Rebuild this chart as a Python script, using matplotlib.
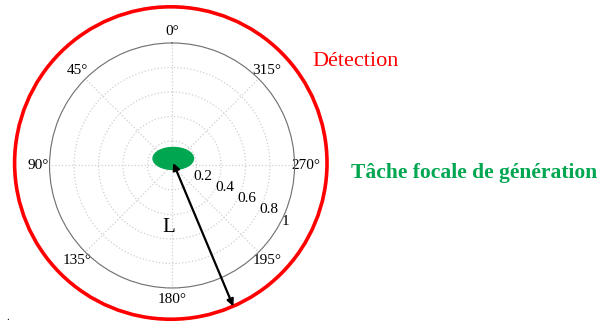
import matplotlib.pyplot as plt
import numpy as np
from matplotlib.patches import Circle, Ellipse

plt.rcParams['font.family'] = ['Liberation Serif', 'DejaVu Serif']

# polar grid
theta_ticks = [0, 45, 90, 135, 180, 225, 270, 315]
theta_labels = ['0°', '45°', '90°', '135°', '180°', '195°', '270°', '315°']
r_ticks = [0.2, 0.4, 0.6, 0.8, 1.0]
r_labels = ['0.2', '0.4', '0.6', '0.8', '1']

# overlay shapes (cartesian, unit = polar radius 1)
detect_center = (-0.01, 0.02)
detect_radius = 1.275
spot_center = (0.01, 0.057)
spot_w, spot_h = 0.33, 0.18
arrow_tail = (0.50, -1.15)
arrow_head = (0.01, 0.02)

fig = plt.figure(figsize=(6.01, 3.22), dpi=100)
rect = [0.0824, 0.1056, 0.4077, 0.761]
ax = fig.add_axes(rect, projection='polar')
ax.set_theta_zero_location('N')
ax.set_theta_direction(1)
ax.set_ylim(0, 1)
ax.set_thetagrids(theta_ticks, theta_labels, fontsize=11)
ax.set_rgrids(r_ticks, r_labels, angle=243, fontsize=11)
ax.grid(True, color='#d0d0d0', linestyle=':', linewidth=0.9)
ax.spines['polar'].set_color('#707070')
ax.spines['polar'].set_linewidth(0.8)
ax.tick_params(axis='x', pad=-2)
for t in ax.yaxis.get_ticklabels():
    t.set_ha('left')
    t.set_va('center')

ov = fig.add_axes(rect)
ov.set_xlim(-1, 1)
ov.set_ylim(-1, 1)
ov.set_aspect('equal')
ov.axis('off')
ov.add_patch(Circle(detect_center, detect_radius, fill=False, color='#ff0000', lw=2.6, clip_on=False))
ov.add_patch(Ellipse(spot_center, spot_w, spot_h, color='#00a650', clip_on=False))
ov.annotate('', xy=arrow_head, xytext=arrow_tail,
            arrowprops=dict(arrowstyle='<|-|>', color='black', lw=1.6, mutation_scale=10,
                            shrinkA=0, shrinkB=0), annotation_clip=False)
ov.text(-0.03, -0.51, 'L', fontsize=15, ha='center', va='center')

fig.text(356 / 601, 1 - 62 / 322, 'Détection', color='#ff0000', fontsize=16,
         ha='center', va='center')
fig.text(474 / 601, 1 - 173 / 322, 'Tâche focale de génération', color='#00a650',
         fontsize=15.5, fontweight='bold', ha='center', va='center')
fig.text(8 / 601, 1 - 318 / 322, '.', fontsize=8, ha='center', va='center')

plt.savefig('out.png', dpi=100)
